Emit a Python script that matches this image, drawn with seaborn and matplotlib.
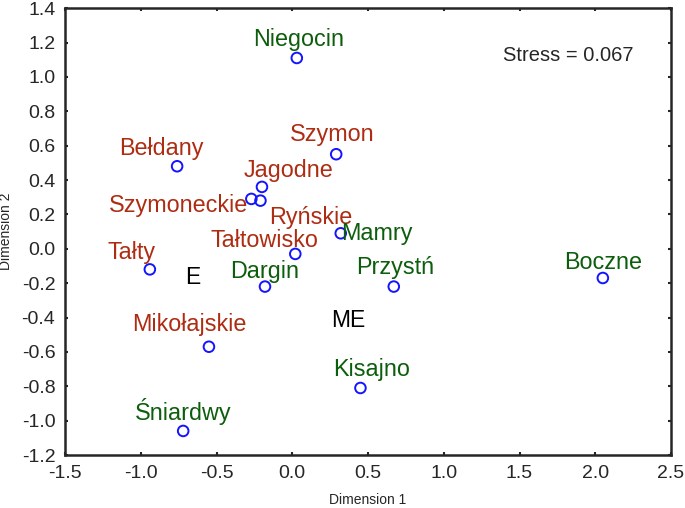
import matplotlib
matplotlib.use('Agg')
import matplotlib.pyplot as plt
import seaborn as sns
import pandas as pd

# lakes and their MDS coordinates
lakes = ['Niegocin', 'Bełdany', 'Szymon', 'Jagodne', 'Szymoneckie', 'Ryńskie',
         'Mamry', 'Tałtowisko', 'Tałty', 'Dargin', 'Mikołajskie', 'Śniardwy',
         'Przystń', 'Boczne', 'Kisajno']
dim1 = [0.03, -0.76, 0.29, -0.20, -0.27, -0.21, 0.32, 0.02, -0.94, -0.18,
        -0.55, -0.72, 0.67, 2.05, 0.45]
dim2 = [1.11, 0.48, 0.55, 0.36, 0.29, 0.28, 0.09, -0.03, -0.12, -0.22,
        -0.57, -1.06, -0.22, -0.17, -0.81]
trophy = ['ME', 'E', 'E', 'E', 'E', 'E', 'ME', 'E', 'E', 'ME',
          'E', 'ME', 'ME', 'ME', 'ME']

group_labels = ['E', 'ME']
group_x = [-0.655, 0.37]
group_y = [-0.165, -0.42]
stress = 0.067

df = pd.DataFrame({'lake': lakes, 'x': dim1, 'y': dim2, 'group': trophy})

colors = {'E': '#AE2C12', 'ME': '#0C5E0C'}
# label offsets in points (dx, dy, ha)
offsets = {
    'Niegocin': (1, 13, 'center'), 'Bełdany': (-11, 13, 'center'),
    'Szymon': (-3, 14, 'center'), 'Jagodne': (19, 12, 'center'),
    'Szymoneckie': (-2, -5, 'right'), 'Ryńskie': (6, -12, 'left'),
    'Mamry': (0, 0, 'left'), 'Tałtowisko': (-22, 10, 'center'),
    'Tałty': (-13, 12, 'center'), 'Dargin': (0, 11, 'center'),
    'Mikołajskie': (-14, 16, 'center'), 'Śniardwy': (0, 14, 'center'),
    'Przystń': (1, 14, 'center'), 'Boczne': (0, 11, 'center'),
    'Kisajno': (8, 13, 'center'),
}

sns.set_style('ticks')
plt.rcParams['font.family'] = ['Liberation Sans', 'DejaVu Sans']

fig = plt.figure(figsize=(6.85, 5.08), dpi=100)
ax = fig.add_axes([0.0949, 0.1043, 0.8847, 0.8797])

sns.scatterplot(data=df, x='x', y='y', ax=ax, marker='o', s=58,
                facecolor='none', edgecolor='#1414FF', linewidth=1.4, zorder=3)

for _, r in df.iterrows():
    dx, dy, ha = offsets[r['lake']]
    ax.annotate(r['lake'], (r['x'], r['y']), xytext=(dx, dy),
                textcoords='offset points', ha=ha, va='center',
                fontsize=16.8, color=colors[r['group']])

for lab, gx, gy in zip(group_labels, group_x, group_y):
    ax.text(gx, gy, lab, ha='center', va='center', fontsize=16.5, color='black')

ax.text(1.82, 1.127, f'Stress = {stress}', ha='center', va='center', fontsize=14.5)

ax.set_xlim(-1.5, 2.5)
ax.set_ylim(-1.2, 1.4)
ax.set_xticks([-1.5, -1.0, -0.5, 0.0, 0.5, 1.0, 1.5, 2.0, 2.5])
ax.set_yticks([-1.2, -1.0, -0.8, -0.6, -0.4, -0.2, 0.0, 0.2, 0.4, 0.6, 0.8, 1.0, 1.2, 1.4])
ax.xaxis.set_major_formatter(matplotlib.ticker.FormatStrFormatter('%.1f'))
ax.yaxis.set_major_formatter(matplotlib.ticker.FormatStrFormatter('%.1f'))
ax.tick_params(axis='both', labelsize=14, direction='in', length=2.5, width=1.5,
               top=True, right=True, pad=7)
for sp in ax.spines.values():
    sp.set_linewidth(1.8)
    sp.set_visible(True)

ax.set_xlabel('Dimension 1', fontsize=10, labelpad=8)
ax.set_ylabel('Dimension 2', fontsize=10, labelpad=6)

fig.savefig('out.png', dpi=100)
